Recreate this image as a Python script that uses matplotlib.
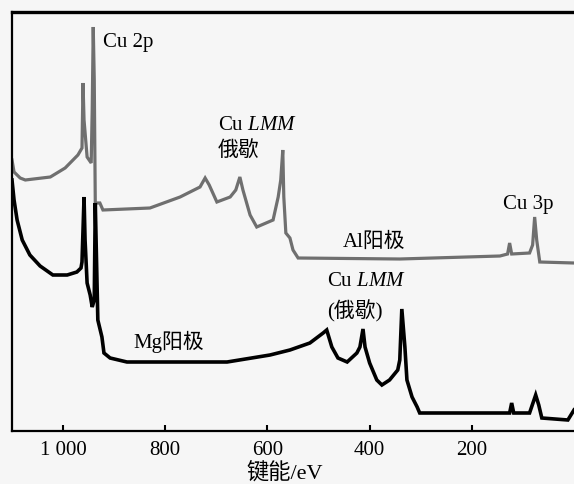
import numpy as np
import matplotlib
matplotlib.use('Agg')
import matplotlib.pyplot as plt

plt.rcParams['font.family'] = ['Liberation Serif', 'Noto Sans CJK SC']
plt.rcParams['mathtext.fontset'] = 'custom'
plt.rcParams['mathtext.rm'] = 'Liberation Serif'
plt.rcParams['mathtext.it'] = 'Liberation Serif:italic'

# binding energy (eV) and intensity (arb. units)
al_energy = [1100, 1096, 1084, 1074, 1025, 996, 971, 963, 961, 959, 953, 945, 943, 941, 939,
             937, 928, 922, 830, 771, 732, 722, 714, 699, 673, 662, 654, 648, 634, 621,
             589, 579, 574, 570, 568, 564, 556, 550, 540, 341, 145, 130, 126, 122, 87,
             81, 77, 73, 67, 0]
al_counts = [271, 259, 253, 251, 254, 263, 276, 283, 348, 311, 274, 268, 321, 404, 351,
             228, 228, 221, 223, 234, 244, 253, 246, 229, 234, 241, 254, 241, 216, 204,
             211, 234, 251, 281, 234, 198, 193, 181, 173, 172, 175, 177, 188, 177, 178,
             186, 214, 191, 169, 168]

mg_energy = [1100, 1096, 1090, 1080, 1065, 1045, 1020, 992, 973, 965, 963, 961, 959, 957,
             953, 947, 943, 939, 937, 935, 932, 924, 920, 908, 875, 679, 595, 556, 517,
             491, 484, 474, 462, 444, 425, 419, 413, 409, 400, 386, 376, 361, 345, 341,
             337, 331, 327, 317, 307, 302, 126, 122, 118, 87, 75, 69, 63, 12, 0]
mg_counts = [251, 231, 211, 191, 176, 165, 156, 156, 159, 163, 169, 201, 234, 191,
             148, 136, 124, 131, 228, 181, 111, 94, 78, 73, 69, 69, 76, 81, 88,
             98, 101, 84, 73, 69, 78, 84, 102, 84, 68, 51, 46, 51, 61, 71,
             122, 84, 51, 34, 24, 18, 18, 28, 18, 18, 36, 26, 13, 11, 21]

xticks = [1000, 800, 600, 400, 200]
xticklabels = ['1 000', '800', '600', '400', '200']

fig = plt.figure(figsize=(5.74, 4.84), dpi=100)
fig.patch.set_facecolor('#f6f6f6')
ax = fig.add_axes([12/574, 53/484, 562/574, 419/484])
ax.set_facecolor('#f6f6f6')

ax.plot(al_energy, al_counts, color='#6f6f6f', lw=2.3, solid_joinstyle='miter')
ax.plot(mg_energy, mg_counts, color='black', lw=2.6, solid_joinstyle='miter')

ax.set_xlim(1100, 0)
ax.set_ylim(0, 419)
ax.set_xticks(xticks)
ax.set_xticklabels(xticklabels, fontsize=15)
ax.set_yticks([])
ax.tick_params(axis='x', direction='in', length=4, width=1.5, pad=7)
ax.spines['right'].set_visible(False)
for s in ['left', 'bottom']:
    ax.spines[s].set_linewidth(1.6)
ax.spines['top'].set_linewidth(2.4)

ax.set_xlabel('键能/eV', fontsize=16)
ax.xaxis.set_label_coords(0.486, -0.075)

fs = 15
ax.text(922, 389, 'Cu 2p', fontsize=fs, va='center')
ax.text(697, 306, r'Cu $\mathit{LMM}$', fontsize=fs, va='center')
ax.text(697, 279, '俄歇', fontsize=fs, va='center')
ax.text(452, 189, 'Al阳极', fontsize=fs, va='center')
ax.text(139, 226, 'Cu 3p', fontsize=fs, va='center')
ax.text(484, 149, r'Cu $\mathit{LMM}$', fontsize=fs, va='center')
ax.text(484, 120, '(俄歇)', fontsize=fs, va='center')
ax.text(863, 89, 'Mg阳极', fontsize=fs, va='center')

fig.savefig('out.png', dpi=100, facecolor=fig.get_facecolor())
